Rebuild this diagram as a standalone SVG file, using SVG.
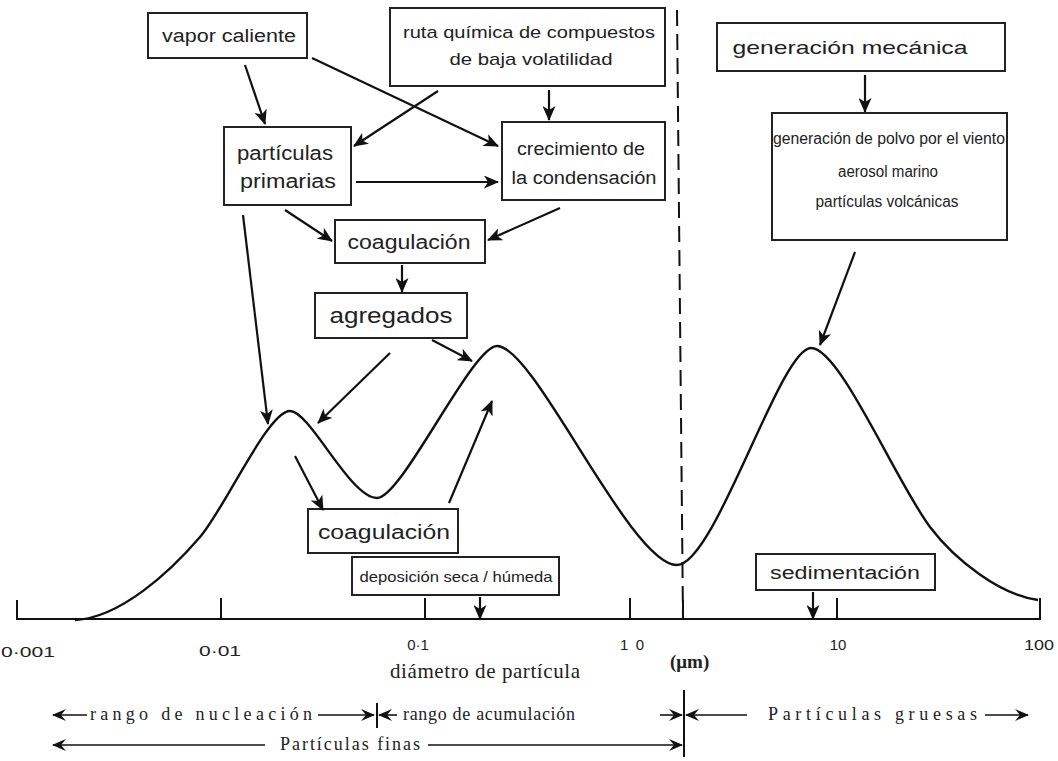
<svg xmlns="http://www.w3.org/2000/svg" width="1058" height="761" viewBox="0 0 1058 761">
<defs>
<marker id="ah" markerUnits="userSpaceOnUse" markerWidth="15" markerHeight="13" viewBox="0 0 15 13" refX="14" refY="6.5" orient="auto">
<path d="M0,0 L15,6.5 L0,13 L4,6.5 z" fill="#111"/>
</marker>
<marker id="sh" markerUnits="userSpaceOnUse" markerWidth="14" markerHeight="12" viewBox="0 0 14 12" refX="13" refY="6" orient="auto">
<path d="M0,0 L14,6 L0,12 L5,6 z" fill="#111"/>
</marker>
<style>
.box{fill:#fff;stroke:#222;stroke-width:2}
.t{font-family:"Liberation Sans",Arial,sans-serif;fill:#222;text-anchor:middle}
.c{stroke:#111;stroke-width:2.2;fill:none;marker-end:url(#ah)}
.ln{stroke:#111;stroke-width:2;fill:none}
.s{font-family:"Liberation Serif","Times New Roman",serif;fill:#222;font-size:18px}
.b{stroke:#111;stroke-width:1.6;fill:none;marker-end:url(#sh)}
.tick{font-family:"Liberation Sans",Arial,sans-serif;fill:#222;font-size:15px;text-anchor:middle}
</style>
</defs>
<rect width="1058" height="761" fill="#fff"/>

<!-- dashed boundary -->
<line x1="677" y1="10" x2="683" y2="620" stroke="#111" stroke-width="2" stroke-dasharray="16,8"/>

<!-- axis -->
<g id="axis">
<path class="ln" d="M17,600 L17,619 L1040,619 L1040,598"/>
<line class="ln" x1="221" y1="598" x2="221" y2="619" stroke-width="1.5"/>
<line class="ln" x1="425" y1="598" x2="425" y2="619" stroke-width="1.5"/>
<line class="ln" x1="630" y1="598" x2="630" y2="619" stroke-width="1.5"/>
<line class="ln" x1="683" y1="600" x2="683" y2="619" stroke-width="1.5"/>
<line class="ln" x1="837" y1="598" x2="837" y2="619" stroke-width="1.5"/>
<text class="tick" x="28" y="657" textLength="54" lengthAdjust="spacingAndGlyphs">0·001</text>
<text class="tick" x="220" y="656" textLength="42" lengthAdjust="spacingAndGlyphs">0·01</text>
<text class="tick" x="418" y="650">0·1</text>
<text class="tick" x="632" y="650" textLength="24" lengthAdjust="spacing">1 0</text>
<text class="tick" x="838" y="650">10</text>
<text class="tick" x="1039" y="650" textLength="30" lengthAdjust="spacingAndGlyphs">100</text>
<text x="390" y="678" font-family="'Liberation Serif',serif" font-size="21" fill="#222" textLength="190" lengthAdjust="spacing">diámetro de  partícula</text>
<text x="670" y="668" font-family="'Liberation Serif',serif" font-weight="bold" font-size="19" fill="#222">(μm)</text>
</g>

<!-- distribution curve -->
<path id="curve" fill="none" stroke="#111" stroke-width="2.4" d="M75,620 C120,618 170,572 200,537 C225,508 268,411 290,411 C310,411 350,498 377,498 C402,498 472,346 497,346 C535,346 630,565 677,565 C715,565 780,348 811,348 C840,348 895,480 930,527 C955,560 1000,595 1038,600"/>

<!-- nodes -->
<g id="vapor"><rect class="box" x="148" y="13" width="159" height="45"/><text class="t" x="229" y="42" font-size="18" textLength="134" lengthAdjust="spacingAndGlyphs">vapor caliente</text></g>
<g id="ruta"><rect class="box" x="390" y="8" width="275" height="78"/><text class="t" x="529" y="38" font-size="17" textLength="252" lengthAdjust="spacingAndGlyphs">ruta química de compuestos</text><text class="t" x="531" y="65" font-size="17" textLength="163" lengthAdjust="spacingAndGlyphs">de baja volatilidad</text></g>
<g id="primarias"><rect class="box" x="224" y="127" width="127" height="78"/><text class="t" x="285" y="160" font-size="20" textLength="96" lengthAdjust="spacingAndGlyphs">partículas</text><text class="t" x="288" y="188" font-size="20" textLength="96" lengthAdjust="spacingAndGlyphs">primarias</text></g>
<g id="crecimiento"><rect class="box" x="502" y="122" width="163" height="78"/><text class="t" x="581" y="155" font-size="18" textLength="128" lengthAdjust="spacingAndGlyphs">crecimiento de</text><text class="t" x="584" y="184" font-size="18" textLength="145" lengthAdjust="spacingAndGlyphs">la condensación</text></g>
<g id="coag1"><rect class="box" x="335" y="220" width="150" height="43"/><text class="t" x="409" y="249" font-size="20" textLength="123" lengthAdjust="spacingAndGlyphs">coagulación</text></g>
<g id="agregados"><rect class="box" x="315" y="293" width="152" height="45"/><text class="t" x="391" y="323" font-size="22" textLength="123" lengthAdjust="spacingAndGlyphs">agregados</text></g>
<g id="mecanica"><rect class="box" x="717" y="23" width="288" height="48"/><text class="t" x="850" y="54" font-size="19" textLength="235" lengthAdjust="spacingAndGlyphs">generación mecánica</text></g>
<g id="polvo"><rect class="box" x="772" y="113" width="235" height="127"/><text class="t" x="889" y="144" font-size="16" textLength="232" lengthAdjust="spacingAndGlyphs">generación de polvo por el viento</text><text class="t" x="888" y="177" font-size="16" textLength="100" lengthAdjust="spacingAndGlyphs">aerosol marino</text><text class="t" x="887" y="207" font-size="16" textLength="143" lengthAdjust="spacingAndGlyphs">partículas volcánicas</text></g>
<g id="coag2"><rect class="box" x="308" y="509" width="150" height="44"/><text class="t" x="384" y="539" font-size="20" textLength="132" lengthAdjust="spacingAndGlyphs">coagulación</text></g>
<g id="deposicion"><rect class="box" x="352" y="557" width="207" height="38"/><text class="t" x="456" y="582" font-size="15" textLength="193" lengthAdjust="spacingAndGlyphs">deposición seca / húmeda</text></g>
<g id="sedimentacion"><rect class="box" x="756" y="554" width="179" height="36"/><text class="t" x="845" y="579" font-size="18" textLength="150" lengthAdjust="spacingAndGlyphs">sedimentación</text></g>

<!-- connectors -->
<g id="connectors">
<line class="c" x1="245" y1="65" x2="265" y2="124"/>
<line class="c" x1="312" y1="58" x2="498" y2="146"/>
<line class="c" x1="438" y1="91" x2="354" y2="146"/>
<line class="c" x1="549" y1="90" x2="549" y2="120"/>
<line class="c" x1="356" y1="182" x2="498" y2="182"/>
<line class="c" x1="285" y1="210" x2="332" y2="241"/>
<line class="c" x1="560" y1="208" x2="488" y2="240"/>
<line class="c" x1="402" y1="265" x2="402" y2="292"/>
<line class="c" x1="243" y1="215" x2="268" y2="424"/>
<line class="c" x1="390" y1="353" x2="318" y2="423"/>
<line class="c" x1="432" y1="340" x2="472" y2="361"/>
<line class="c" x1="295" y1="456" x2="323" y2="510"/>
<line class="c" x1="449" y1="503" x2="492" y2="401"/>
<line class="c" x1="865" y1="75" x2="865" y2="112"/>
<line class="c" x1="855" y1="252" x2="820" y2="345"/>
<line class="c" x1="480" y1="597" x2="480" y2="619"/>
<line class="c" x1="813" y1="592" x2="813" y2="619"/>
</g>

<!-- ranges -->
<g id="ranges">
<line class="b" x1="87" y1="715" x2="53" y2="715"/>
<text class="s" x="90" y="720" textLength="222" lengthAdjust="spacing">rango de nucleación</text>
<line class="b" x1="318" y1="715" x2="374" y2="715"/>
<line class="ln" x1="377" y1="703" x2="377" y2="728" stroke-width="1.6"/>
<line class="b" x1="397" y1="715" x2="379" y2="715"/>
<text class="s" x="403" y="720" textLength="172" lengthAdjust="spacing">rango de acumulación</text>
<line class="b" x1="660" y1="715" x2="682" y2="715"/>
<line class="ln" x1="684" y1="690" x2="684" y2="757" stroke-width="1.8"/>
<line class="b" x1="747" y1="715" x2="686" y2="715"/>
<text class="s" x="768" y="720" textLength="209" lengthAdjust="spacing">Partículas gruesas</text>
<line class="b" x1="985" y1="715" x2="1028" y2="715"/>
<line class="b" x1="265" y1="745" x2="53" y2="745"/>
<text class="s" x="280" y="750" textLength="140" lengthAdjust="spacing">Partículas finas</text>
<line class="b" x1="428" y1="745" x2="682" y2="745"/>
</g>
</svg>
